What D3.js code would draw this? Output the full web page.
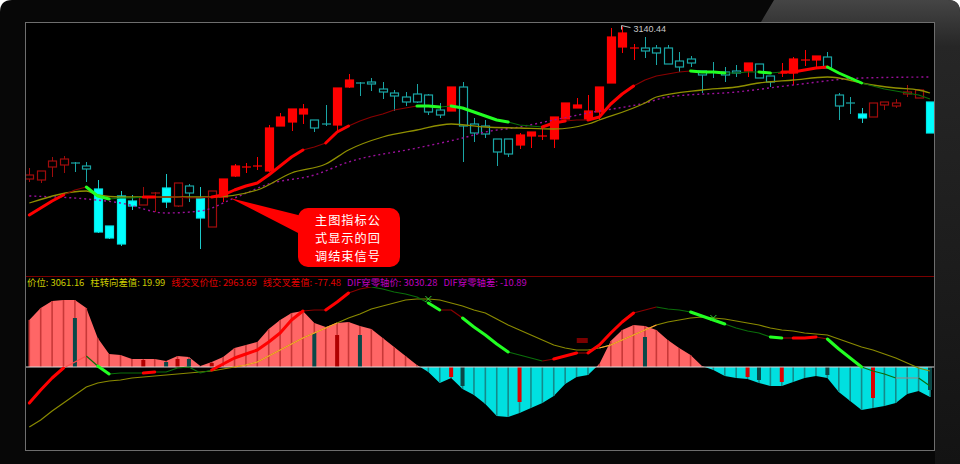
<!DOCTYPE html>
<html><head><meta charset="utf-8">
<script src="https://cdn.jsdelivr.net/npm/d3@7/dist/d3.min.js"></script>
<style>html,body{margin:0;padding:0;background:#fff;}svg{display:block;}</style>
</head><body>
<svg id="chart" width="960" height="464"></svg>
<script>
// ---------- DATA ----------
const candleOpen = [2988,2987,3000,3002,3004,3001,2978,2941,2971,2966, 2962,2973,2979,2961,2981,2969,2940,2970,2991,2999,
  3000,2996,3041,3045,3053,3047,3043,3042,3080,3084, 3085,3078,3074,3070,3073,3072,3057,3056,3080,3043,
  3041,3028,3028,3022,3031,3030,3028,3048,3059,3048, 3055,3084,3120,3118,3119,3119,3119,3106,3108,3096,
  3095,3095,3096,3096,3103,3091,3093,3094,3106,3107, 3110,3072,3064,3053,3050,3062,3061,3073,3069,3065];
const candleClose = [2992,2996,3006,3008,3003,2998,2935,2929,2923,2961, 2970,2974,2965,2984,2974,2949,2976,2988,3001,3000,
  3001,3039,3050,3058,3058,3039,3042,3079,3087,3083, 3083,3075,3071,3065,3065,3055,3052,3080,3041,3034,
  3033,3015,3013,3032,3035,3031,3050,3064,3062,3056, 3080,3130,3134,3119,3116,3114,3103,3100,3104,3092,
  3094,3092,3094,3104,3089,3085,3094,3108,3107,3111, 3099,3061,3063,3049,3064,3065,3064,3075,3077,3034];
const candleHigh = [2999,2996,3010,3011,3005,3005,2987,2941,2976,2972, 2980,2975,2993,2984,2983,2980,2976,2988,3003,3004,
  3010,3042,3054,3058,3063,3047,3062,3079,3093,3085, 3089,3085,3077,3075,3083,3073,3064,3080,3085,3049,
  3047,3028,3028,3034,3035,3040,3050,3064,3069,3072, 3080,3139,3140.44,3123,3130,3122,3122,3115,3111,3096,
  3105,3100,3102,3104,3103,3091,3104,3110,3117,3111, 3115,3074,3070,3059,3064,3065,3068,3082,3077,3065];
const candleLow = [2985,2984,2990,2994,2995,2985,2934,2928,2921,2957, 2962,2955,2959,2960,2965,2918,2940,2965,2990,2994,
  2997,2995,3041,3036,3043,3035,3041,3036,3079,3071, 3076,3068,3056,3061,3064,3052,3049,3056,3005,3025,
  3029,3001,3010,3018,3019,3027,3019,3048,3059,3048, 3047,3084,3114,3107,3109,3102,3103,3095,3100,3074,
  3089,3085,3090,3090,3089,3080,3090,3082,3101,3100, 3099,3047,3053,3044,3050,3057,3059,3070,3069,3034];
// rh = dark red hollow, rf = red filled, cf = cyan filled, ch = cyan hollow
const candleKind = ['rh','rh','rh','rh','ch','ch','cf','cf','cf','cf', 'rh','rh','cf','rh','ch','cf','rh','rf','rf','rf',
  'rf','rf','rf','rf','rf','ch','ch','rf','rf','ch', 'ch','ch','ch','ch','ch','ch','ch','rf','ch','ch',
  'ch','ch','ch','rf','rf','rf','rf','rf','rf','rf', 'rf','rf','rf','rf','ch','ch','ch','ch','ch','ch',
  'ch','ch','ch','rf','ch','ch','rf','rf','rf','rf', 'ch','ch','ch','cf','rh','rh','rh','rh','rh','cf'];

// fast signal line on the price chart
const mainFast = [2952,2959,2966,2972,2977,2980,2971,2968,2969,2969, 2970,2970,2970,2970,2969,2969,2970,2972,2977,2981,
  2984,2992,3001,3010,3017,3020,3024,3035,3041,3046, 3050,3053,3057,3059,3061,3061,3060,3061,3059,3055,
  3051,3047,3045,3042,3041,3040,3044,3046,3047,3047, 3050,3063,3073,3081,3087,3091,3093,3095,3096,3095,
  3095,3094,3094,3095,3095,3094,3095,3095,3097,3099, 3100,3094,3089,3084,3081,3078,3076,3074,3072,3068];
const mainFastRuns = [[0,3,'R'],[3,5,'r'],[5,7,'G'],[7,10,'g'],[10,11,'R'],[11,16,'r'],[16,24,'R'],[24,26,'r'],[26,28,'R'],
  [28,34,'r'],[34,36,'G'],[36,37,'g'],[37,42,'G'],[42,45,'g'],[45,47,'R'],[47,49,'r'],[49,53,'R'],[53,58,'r'],[58,61,'G'],
  [61,64,'g'],[64,65,'G'],[65,66,'g'],[66,70,'R'],[70,73,'G'],[73,79,'g']];
// olive moving average (read at knots)
const oliveIdx = [0,5,6,8,16,20,23,26,28,31,34,37,40,43,46,49,50,54,55,59,62,64,67,70,71,73,76,78,79];
const oliveVal = [2964,2976,2972,2970,2970,2977,2994,3003,3017,3030,3037,3043,3040,3039,3038,3043,3047,3064,3070,3077,3080,3084,3087,3090,3089,3084,3079,3077,3074];
// purple dotted moving average (read at knots)
const purpleIdx = [0,5,8,12,15,18,21,25,28,34,38,40,43,46,49,54,56,62,67,73,79];
const purpleVal = [2971,2968,2964,2954,2956,2969,2983,2992,3005,3019,3029,3035,3040,3047,3054,3064,3070,3075,3082,3089,3090];

// lower indicator
const macdHist = [23.5,29.5,33,33.5,33.5,29.5,14.5,6.5,6,4, 4,4,3,5.5,5,0.5,2.5,5,9.5,11,
  12.5,19,23.5,27,28,22,20,22,22.5,20.5, 19,14.5,10,5.5,1,-2.5,-8,-5.5,-11,-14,
  -18.5,-24.5,-25,-23,-20.5,-18,-14.5,-8.5,-5,-4, 1.5,13,18.5,21,20.5,18.5,13.5,9.5,6,0.5,
  -1.5,-4.5,-5.5,-6,-8,-9.5,-9.5,-7.5,-5.5,-4.5, -5.5,-12.5,-17,-21.5,-20.5,-19.5,-18,-13.5,-12,-15];
const macdDif = [-18,-11.5,-5.5,-0.5,2.5,5.5,0.5,-3.5,-3,-3, -3,-2.5,-2.5,-0.5,0,-3,-1.5,1.5,4.5,6.5,
  8.5,12.5,17,23.5,28,28.5,28.5,32.5,37,39, 40,39,37.5,36.5,35,32,28.5,28.5,24.5,20,
  16,11.5,7.5,6,4.5,3,4,5.5,7,7, 11,17,22.5,27,28.5,30,29,28.5,27.5,25.5,
  23.5,21.5,19.5,18,17,15,14.5,14.5,14.5,15, 14,9,4.5,0,-2,-3.5,-5.5,-5.5,-5.5,-9.5];
const macdDifRuns = [[0,3,'R'],[3,5,'p'],[5,6,'g'],[6,7,'G'],[7,10,'g'],[10,11,'R'],[11,16,'g'],[16,24,'R'],[24,26,'r'],
  [26,28,'R'],[28,30,'r'],[30,35,'g'],[35,36,'G'],[36,38,'r'],[38,42,'G'],[42,45,'g'],[45,46,'r'],[46,48,'R'],[48,49,'r'],
  [49,53,'R'],[53,55,'r'],[55,58,'g'],[58,61,'G'],[61,65,'g'],[65,66,'G'],[66,67,'r'],[67,69,'R'],[69,70,'r'],[70,73,'G'],
  [73,76,'g'],[76,78,'y'],[78,79,'g']];
const macdDea = [-30,-26.5,-22,-18,-14,-10,-8,-7,-6.5,-5.5, -5,-4.5,-4,-3.5,-3,-2.5,-2,-1,0,1,
  2.5,5.5,8.5,11.5,14.5,17,19.5,22,24.5,26.5, 29,30.5,32,33.5,34,34,33.5,32,30.5,28.5,
  27,24,21,18.5,16,13.5,11,9.5,8.5,8.5, 9.5,11,13.5,16,18.5,21,22.5,23.5,24.5,25,
  24.5,24,23,22,21,19.5,18.5,18,17,16.5, 16,14,12,10,8.5,6.5,4.5,2,-0.5,-2];
const macdDeaOrange = [[18,27],[50,55]];
const markIdx  = [4,10,12,13,14,16,25,27,29,37,38,43,54,63,64,66,70,74,79];
const markVal  = [24.5,3.5,2.5,4,4,2,17,16,16,-5,-9.5,-17.5,15,-5,-6.5,-7.5,-4,-15.5,-11.5];
const markKind = ['t','r','t','r','t','r','t','r','t','r','t','r','t','r','t','r','t','r','t'];
const blockIdx = [48.5], blockTop = [14.5], blockBottom = [12];
const crossIdx = [35,60], crossVal = [34,24.5];

const labelTexts = ['价位: 3061.16','柱转向差值: 19.99','线交叉价位: 2963.69','线交叉差值: -77.48','DIF穿零轴价: 3030.28','DIF穿零轴差: -10.89'];
const labelKinds = ['y','y','r','r','m','m'];
const calloutLines = ['主图指标公','式显示的回','调结束信号'];
const highLabel = '3140.44';

// ---------- DRAW ----------
const svg = d3.select('#chart');
const defs = svg.append('defs');
const x = d3.scaleLinear().domain([0,79]).range([29.3,930]);
const yP = d3.scaleLinear().domain([2890,3144]).range([277,23]);
const yM = d3.scaleLinear().domain([-41.5,41]).range([450,285]);

const grad = defs.append('linearGradient').attr('id','rim').attr('gradientUnits','userSpaceOnUse')
  .attr('x1',0).attr('y1',0).attr('x2',0).attr('y2',464);
grad.append('stop').attr('offset',0).attr('stop-color','#454545');
grad.append('stop').attr('offset',0.1).attr('stop-color','#262626');
grad.append('stop').attr('offset',1).attr('stop-color','#131313');

svg.append('path').attr('d','M0,12 Q0,0 12,0 L948,0 Q960,0 960,12 L960,464 L0,464 Z').attr('fill','#070707');
svg.append('path').attr('d','M774,0 L948,0 Q960,0 960,12 L960,464 L935,464 L935,22 L761,22 Z').attr('fill','url(#rim)');
svg.append('rect').attr('x',25.5).attr('y',22.5).attr('width',909).attr('height',428)
  .attr('fill','#000').attr('stroke','#6e6e6e');

defs.append('clipPath').attr('id','clipMain').append('rect').attr('x',26).attr('y',23).attr('width',908).attr('height',253);
defs.append('clipPath').attr('id','clipSub').append('rect').attr('x',26).attr('y',287).attr('width',908).attr('height',163);
defs.append('clipPath').attr('id','clipPos').append('rect').attr('x',26).attr('y',287).attr('width',908).attr('height',yM(0)-287);
defs.append('clipPath').attr('id','clipNeg').append('rect').attr('x',26).attr('y',yM(0)).attr('width',908).attr('height',450-yM(0));

// separator
svg.append('line').attr('x1',26).attr('x2',934).attr('y1',276.5).attr('y2',276.5).attr('stroke','#7a0000');

const runColor = {R:'#ff0000', r:'#8a0000', G:'#22ff22', g:'#0a6e0a', p:'#ff4d4d', y:'#8c8c8c'};
const runWidth = {R:3, r:1.2, G:3, g:1.2, p:1.2, y:1.2};
function drawRuns(g, vals, runs, ys){
  const line = d3.line().x(i=>x(i)).y(i=>ys(vals[i]));
  runs.slice().sort((a,b)=>runWidth[a[2]]-runWidth[b[2]]).forEach(([a,b,t])=>{
    g.append('path').attr('d', line(d3.range(a,b+1))).attr('fill','none')
      .attr('stroke', runColor[t]).attr('stroke-width', runWidth[t])
      .attr('stroke-linejoin','round').attr('stroke-linecap', runWidth[t]>2?'round':'butt');
  });
}

// ---- main panel
const gm = svg.append('g').attr('clip-path','url(#clipMain)');
const kindStyle = {
  rh:{stroke:'#a00c0c', fill:'#000', wick:'#a00c0c'},
  rf:{stroke:'#ff0000', fill:'#ff0000', wick:'#ff0000'},
  cf:{stroke:'#00e8e8', fill:'#00ffff', wick:'#1cc8c8'},
  ch:{stroke:'#1aa6a6', fill:'#000', wick:'#1aa6a6'}
};
const bw = 9;
candleOpen.forEach((o,i)=>{
  const c = candleClose[i], st = kindStyle[candleKind[i]];
  const cx = Math.round(x(i)) + 0.5;
  const top = yP(Math.max(o,c)), bot = yP(Math.min(o,c));
  gm.append('line').attr('x1',cx).attr('x2',cx).attr('y1',yP(candleHigh[i])).attr('y2',yP(candleLow[i]))
    .attr('stroke',st.wick).attr('stroke-width',1);
  const h = Math.max(1, bot-top);
  if (h <= 1.5) {
    gm.append('line').attr('x1',cx-4.5).attr('x2',cx+4.5).attr('y1',top).attr('y2',top)
      .attr('stroke',st.stroke).attr('stroke-width',1.2);
  } else {
    gm.append('rect').attr('x',cx-4).attr('y',top).attr('width',bw-1).attr('height',h)
      .attr('fill',st.fill).attr('stroke',st.stroke).attr('stroke-width',1.2);
  }
});
gm.append('path').attr('d', d3.line().x((d,k)=>x(purpleIdx[k])).y(d=>yP(d)).curve(d3.curveMonotoneX)(purpleVal))
  .attr('fill','none').attr('stroke','#9a109a').attr('stroke-width',1.4).attr('stroke-dasharray','2,3');
gm.append('path').attr('d', d3.line().x((d,k)=>x(oliveIdx[k])).y(d=>yP(d)).curve(d3.curveMonotoneX)(oliveVal))
  .attr('fill','none').attr('stroke','#8f8f00').attr('stroke-width',1.3);
drawRuns(gm, mainFast, mainFastRuns, yP);

// high label
const hi = d3.maxIndex(candleHigh);
const hx = Math.round(x(hi)) + 0.5, hy = yP(candleHigh[hi]);
svg.append('path').attr('d',`M${hx-1},${hy+3} L${hx-1},${hy-1} L${hx+8},${hy+1}`)
  .attr('fill','none').attr('stroke','#bbbbbb').attr('stroke-width',1);
svg.append('text').attr('x',hx+11).attr('y',hy+5).text(highLabel)
  .attr('fill','#c8c8c8').attr('font-size',9).attr('font-family','Liberation Sans, Arial, sans-serif');

// callout
const cg = svg.append('g');
cg.append('path').attr('d','M230,198 L302,216 L302,235 Z').attr('fill','#ff0000');
cg.append('rect').attr('x',298).attr('y',208).attr('width',102).attr('height',59).attr('rx',10).attr('fill','#ff0000');
calloutLines.forEach((t,k)=>{
  cg.append('text').attr('x',315).attr('y',225+k*18).text(t).attr('fill','#fff')
    .attr('font-size',12.2).attr('letter-spacing',1)
    .attr('font-family','"Noto Sans CJK SC", sans-serif');
});

// ---- lower panel
const gs = svg.append('g').attr('clip-path','url(#clipSub)');
const area = d3.area().x((d,i)=>x(i)).y0(yM(0)).y1(d=>yM(d));
gs.append('path').attr('d',area(macdHist)).attr('fill','#ff6666').attr('clip-path','url(#clipPos)');
gs.append('path').attr('d',area(macdHist)).attr('fill','#00e0e0').attr('clip-path','url(#clipNeg)');
macdHist.forEach((v,i)=>{
  gs.append('line').attr('x1',x(i)).attr('x2',x(i)).attr('y1',yM(0)).attr('y2',yM(v))
    .attr('stroke', v>=0 ? '#c83838' : '#148a8a').attr('stroke-width',1.6);
});
markIdx.forEach((idx,k)=>{
  const v = markVal[k];
  gs.append('rect').attr('x',x(idx)-2).attr('width',4)
    .attr('y',Math.min(yM(0),yM(v))).attr('height',Math.abs(yM(v)-yM(0)))
    .attr('fill', markKind[k]==='t' ? '#0b4848' : (v>=0 ? '#b00000' : '#dd0000'));
});
blockIdx.forEach((idx,k)=>{
  gs.append('rect').attr('x',x(idx)-5.5).attr('width',11).attr('y',yM(blockTop[k]))
    .attr('height',yM(blockBottom[k])-yM(blockTop[k])).attr('fill','#7a0000');
});
gs.append('line').attr('x1',26).attr('x2',934).attr('y1',yM(0)).attr('y2',yM(0))
  .attr('stroke','#d8d8d8').attr('stroke-width',1.2);
const deaLine = d3.line().x(i=>x(i)).y(i=>yM(macdDea[i]));
gs.append('path').attr('d',deaLine(d3.range(0,80))).attr('fill','none').attr('stroke','#8a8a00').attr('stroke-width',1.2);
macdDeaOrange.forEach(([a,b])=>{
  gs.append('path').attr('d',deaLine(d3.range(a,b+1))).attr('fill','none').attr('stroke','#ffa030').attr('stroke-width',1.2);
});
drawRuns(gs, macdDif, macdDifRuns, yM);
crossIdx.forEach((idx,k)=>{
  const cx = x(idx), cy = yM(crossVal[k]);
  gs.append('path').attr('d',`M${cx-3},${cy-3}L${cx+3},${cy+3}M${cx+3},${cy-3}L${cx-3},${cy+3}`)
    .attr('stroke','#2fd02f').attr('stroke-width',1);
});

// label row
const labelColor = {y:'#cccc00', r:'#e00000', m:'#c000c0'};
let lx = 27;
labelTexts.forEach((t,k)=>{
  const el = svg.append('text').attr('x',lx).attr('y',286).text(t)
    .attr('fill',labelColor[labelKinds[k]]).attr('font-size',9.4)
    .attr('font-family','"Noto Sans CJK SC", sans-serif');
  lx += el.node().getComputedTextLength() + 6;
});
</script>
</body></html>
